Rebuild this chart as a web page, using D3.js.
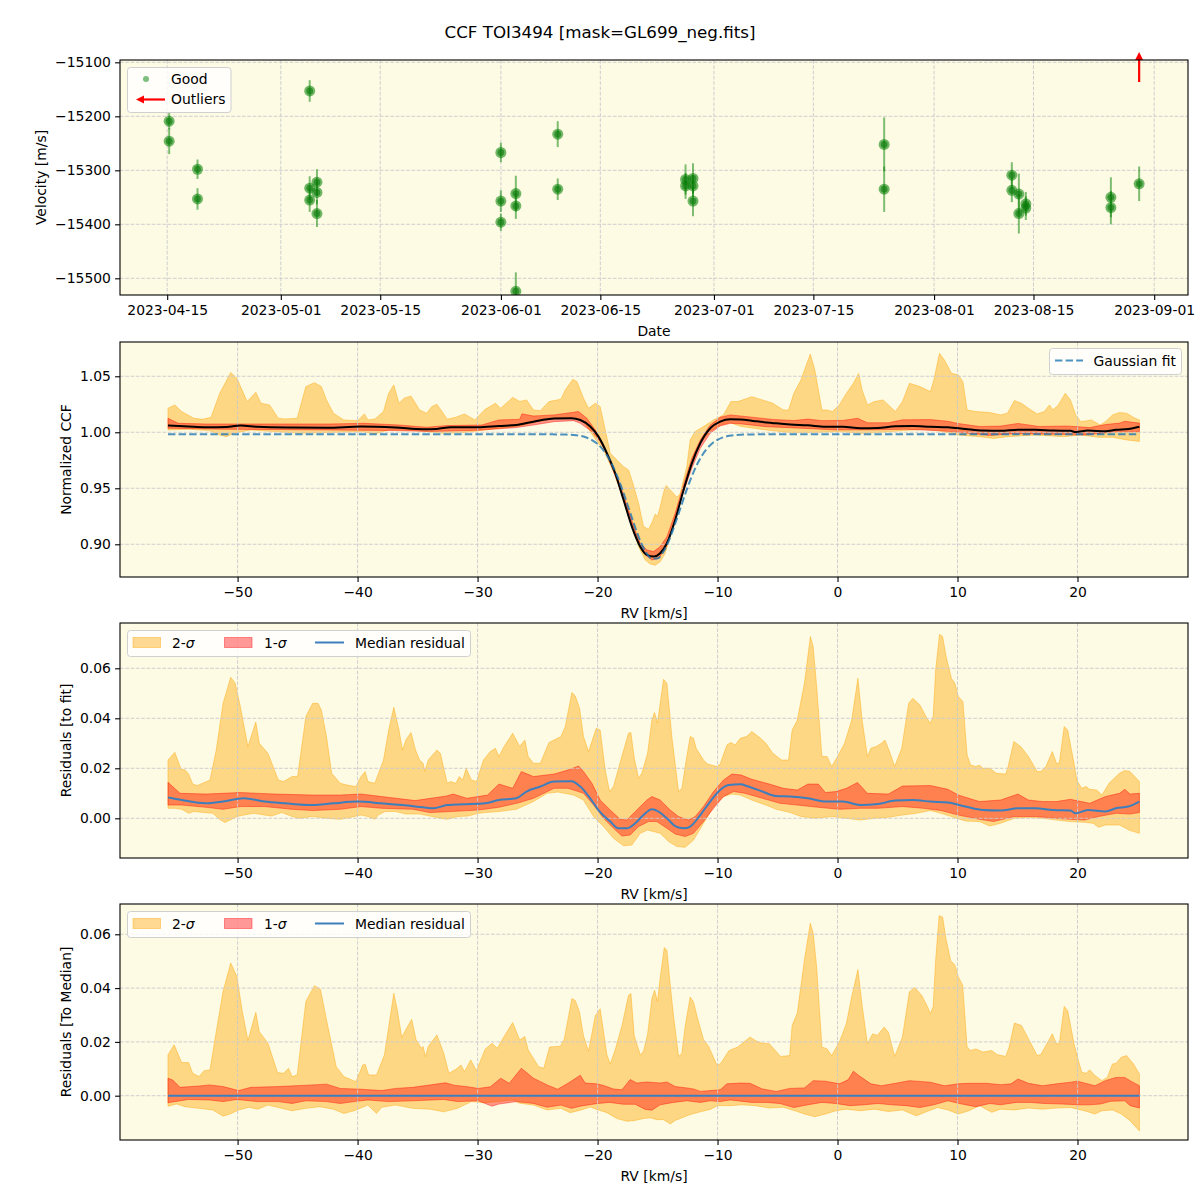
<!DOCTYPE html>
<html><head><meta charset="utf-8">
<script src="https://cdn.jsdelivr.net/npm/d3@7"></script>
<style>body{margin:0;background:#fff}svg{display:block}</style>
</head><body><svg id="c" width="1200" height="1200"></svg>
<script>
// ---------------- DATA ----------------
const chartTitle = "CCF TOI3494 [mask=GL699_neg.fits]";
const obsDates = ["2023-04-15T06:43:00Z","2023-04-15T06:43:00Z","2023-04-19T06:29:00Z","2023-04-19T06:29:00Z",
 "2023-05-05T01:41:00Z","2023-05-05T01:41:00Z","2023-05-05T01:41:00Z","2023-05-06T02:10:00Z","2023-05-06T02:10:00Z","2023-05-06T02:10:00Z",
 "2023-05-31T23:46:00Z","2023-05-31T23:46:00Z","2023-05-31T23:46:00Z","2023-06-03T02:24:00Z","2023-06-03T02:24:00Z","2023-06-03T02:24:00Z",
 "2023-06-09T00:00:00Z","2023-06-09T00:00:00Z","2023-06-27T00:00:00Z","2023-06-27T00:00:00Z","2023-06-28T01:12:00Z","2023-06-28T01:12:00Z","2023-06-28T01:12:00Z",
 "2023-07-24T23:17:00Z","2023-07-24T23:17:00Z","2023-08-11T22:48:00Z","2023-08-11T22:48:00Z","2023-08-12T22:34:00Z","2023-08-12T22:34:00Z",
 "2023-08-13T22:05:00Z","2023-08-13T22:05:00Z","2023-08-25T21:36:00Z","2023-08-25T21:36:00Z","2023-08-29T21:07:00Z"];
const obsVel = [-15209,-15246,-15298,-15353,-15153,-15333,-15355,-15322,-15341,-15380,-15267,-15357,-15396,-15343,-15366,-15524,
 -15233,-15335,-15317,-15329,-15315,-15329,-15357,-15252,-15335,-15309,-15337,-15344,-15380,-15362,-15370,-15350,-15369,-15325];
const obsErr = [15,24,18,20,20,22,22,24,22,25,18,20,16,33,24,35,24,20,28,24,28,20,28,50,42,24,22,38,37,22,22,37,31,32];
const outlierDates = ["2023-08-29T21:07:00Z"];
const dateTicks = ["2023-04-15","2023-05-01","2023-05-15","2023-06-01","2023-06-15","2023-07-01","2023-07-15","2023-08-01","2023-08-15","2023-09-01"];
const velTicks = [-15500,-15400,-15300,-15200,-15100];
const rvTicks = [-50,-40,-30,-20,-10,0,10,20];
const ccfTicks = [0.90,0.95,1.00,1.05];
const resTicks = [0.00,0.02,0.04,0.06];

// Panel 2: CCF (rv km/s, normalized CCF)
const ccfUp2 = [[-55.8,1.0214],[-55.23,1.0244],[-54.66,1.0185],[-53.65,1.0125],[-52.93,1.0116],[-52.21,1.0134],[-51.49,1.0348],[-50.57,1.0533],[-50.06,1.0482],[-49.2,1.0274],[-48.48,1.0357],[-48.05,1.0259],[-47.33,1.0244],[-46.61,1.0125],[-46.03,1.0119],[-45.03,1.0125],[-44.31,1.0408],[-43.59,1.0443],[-43.02,1.0408],[-42.59,1.0289],[-42.01,1.017],[-41.15,1.011],[-40.0,1.0104],[-39.43,1.0164],[-39.14,1.011],[-38.56,1.0119],[-37.84,1.0185],[-37.41,1.0348],[-36.98,1.0423],[-36.55,1.0259],[-36.12,1.0304],[-35.55,1.0324],[-35.17,1.0259],[-34.83,1.0199],[-34.25,1.017],[-33.82,1.0229],[-33.39,1.025],[-32.96,1.0185],[-32.53,1.0116],[-31.81,1.0134],[-31.09,1.0164],[-30.23,1.011],[-29.37,1.0205],[-28.51,1.0259],[-28.07,1.0214],[-27.07,1.0312],[-26.49,1.0274],[-25.92,1.0289],[-25.34,1.0199],[-24.77,1.0193],[-24.05,1.0274],[-23.05,1.0295],[-22.69,1.0378],[-22.06,1.0473],[-21.72,1.0452],[-21.17,1.0304],[-20.75,1.0214],[-20.19,1.0259],[-19.78,1.0229],[-19.36,1.0021],[-18.94,0.9813],[-18.39,0.9753],[-17.83,0.9693],[-17.42,0.9664],[-17.14,0.9574],[-16.58,0.9366],[-16.17,0.9158],[-15.75,0.9134],[-15.47,0.9193],[-15.19,0.9271],[-15.0,0.9245],[-14.78,0.9336],[-14.44,0.9485],[-14.28,0.9524],[-13.94,0.9485],[-13.39,0.942],[-13.11,0.9455],[-12.56,0.9693],[-12.28,0.9932],[-11.86,1.0006],[-11.17,1.0051],[-10.33,1.011],[-9.5,1.0155],[-8.89,1.0274],[-8.31,1.0274],[-7.14,1.0318],[-6.26,1.0289],[-5.39,1.0259],[-4.51,1.0199],[-4.08,1.0199],[-3.64,1.0348],[-3.05,1.0467],[-2.27,1.0699],[-1.89,1.0556],[-1.3,1.0199],[-0.87,1.0199],[-0.43,1.0185],[0.15,1.0244],[0.74,1.0348],[1.32,1.0437],[1.76,1.0525],[2.05,1.0378],[2.49,1.0244],[3.07,1.0274],[3.8,1.0289],[4.09,1.0259],[4.82,1.0185],[5.41,1.0274],[6.0,1.0437],[6.87,1.0408],[7.74,1.0363],[8.03,1.0467],[8.5,1.0705],[8.91,1.0646],[9.49,1.0527],[10.07,1.0512],[10.45,1.0452],[10.8,1.0199],[11.53,1.0185],[12.7,1.0176],[13.58,1.0155],[14.16,1.017],[14.74,1.0283],[15.33,1.0259],[15.91,1.0214],[16.64,1.0164],[17.23,1.0185],[17.66,1.0244],[17.95,1.0199],[18.4,1.0244],[18.98,1.0348],[19.41,1.0289],[19.85,1.0155],[20.29,1.0095],[21.16,1.011],[21.9,1.0065],[22.33,1.0095],[22.92,1.0155],[23.5,1.0176],[24.09,1.017],[24.81,1.0125],[25.16,1.011]];
const ccfLo2 = [[-55.8,1.0021],[-54.08,1.0027],[-52.36,1.0015],[-51.49,0.9976],[-50.92,0.9961],[-50.35,0.9991],[-48.91,1.0021],[-46.9,1.0006],[-44.89,0.9991],[-42.59,0.9997],[-39.71,1.0006],[-38.56,0.9985],[-37.41,1.0021],[-35.12,1.0015],[-32.82,0.9991],[-31.09,0.9997],[-29.37,1.0021],[-28.22,1.0036],[-26.49,1.0057],[-25.34,1.0086],[-23.91,1.0116],[-23.1,1.0131],[-22.0,1.0125],[-21.17,1.0095],[-20.33,0.9961],[-19.5,0.9842],[-18.67,0.9649],[-17.83,0.9396],[-17.14,0.9158],[-16.58,0.8979],[-16.03,0.886],[-15.61,0.8825],[-15.19,0.8813],[-14.78,0.8845],[-14.36,0.892],[-13.94,0.9068],[-13.53,0.9262],[-12.83,0.9545],[-12.14,0.9753],[-11.44,0.9902],[-10.61,1.0006],[-9.78,1.0065],[-8.94,1.0086],[-8.02,1.0051],[-5.97,1.0021],[-3.93,0.9997],[-2.18,0.9997],[0.15,1.0006],[1.9,0.9991],[3.36,0.9997],[5.41,1.0015],[7.16,1.0027],[8.33,1.0015],[10.07,0.9976],[11.83,0.9961],[13.0,0.9945],[14.16,0.9961],[16.5,0.9976],[18.83,0.9961],[20.29,0.9976],[21.75,0.9955],[22.92,0.9955],[24.09,0.9932],[25.16,0.9918]];
const ccfUp1 = [[-55.8,1.0125],[-54.94,1.008],[-52.64,1.0074],[-48.05,1.0074],[-42.3,1.0074],[-39.43,1.008],[-36.55,1.0065],[-34.25,1.0045],[-32.53,1.006],[-29.66,1.0065],[-28.22,1.011],[-26.49,1.0116],[-26.3,1.0165],[-25.34,1.0145],[-23.62,1.0155],[-21.58,1.0185],[-20.89,1.0125],[-20.19,1.0021],[-19.5,0.9872],[-18.67,0.9649],[-17.83,0.9411],[-17.14,0.9188],[-16.44,0.9009],[-15.89,0.895],[-15.33,0.8935],[-14.78,0.898],[-14.22,0.9068],[-13.53,0.9277],[-12.83,0.953],[-12.14,0.9768],[-11.44,0.9932],[-10.61,1.0065],[-9.78,1.0134],[-8.94,1.0155],[-8.11,1.0146],[-7.14,1.0135],[-5.39,1.0115],[-3.64,1.0105],[-2.47,1.0118],[-1.3,1.0104],[0.45,1.0106],[1.67,1.0125],[2.49,1.0085],[4.24,1.0085],[5.41,1.0111],[7.74,1.0113],[9.2,1.0098],[10.07,1.0078],[11.83,1.0052],[13.58,1.0055],[15.04,1.0079],[16.79,1.0052],[19.12,1.0056],[21.02,1.0042],[22.33,1.0069],[23.5,1.0082],[23.94,1.0098],[25.16,1.0082]];
const ccfLo1 = [[-55.8,1.0036],[-51.2,1.0027],[-42.59,1.0021],[-36.84,1.0015],[-33.97,1.0006],[-29.94,1.0018],[-26.78,1.0042],[-25.34,1.0065],[-23.62,1.0095],[-22.0,1.0104],[-21.44,1.008],[-20.47,1.0006],[-19.78,0.9917],[-18.94,0.9753],[-18.11,0.953],[-17.42,0.9307],[-16.72,0.9068],[-16.03,0.8905],[-15.47,0.886],[-14.92,0.8875],[-14.36,0.8955],[-13.67,0.9158],[-12.97,0.9426],[-12.14,0.9679],[-11.44,0.9857],[-10.61,0.9991],[-9.78,1.0057],[-8.94,1.008],[-8.02,1.0075],[-5.97,1.005],[-3.05,1.0036],[-0.14,1.0021],[2.78,1.0022],[5.7,1.0027],[8.62,1.0013],[10.95,0.9991],[12.7,0.9972],[14.74,0.9988],[18.25,0.9982],[20.58,0.9976],[22.92,1.0002],[25.16,1.0005]];
const ccfMedian = [[-55.8,1.006],[-54.08,1.0051],[-52.64,1.0045],[-50.92,1.0048],[-49.77,1.006],[-48.34,1.0049],[-45.46,1.0042],[-42.59,1.004],[-39.71,1.0051],[-36.84,1.0042],[-34.54,1.0027],[-33.39,1.003],[-32.24,1.0045],[-29.94,1.0045],[-28.22,1.0057],[-26.78,1.0065],[-25.34,1.0095],[-23.62,1.0122],[-22.18,1.0125],[-21.44,1.011],[-20.61,1.0051],[-19.92,0.9961],[-19.22,0.9813],[-18.53,0.9634],[-17.83,0.9396],[-17.14,0.9158],[-16.44,0.8979],[-15.89,0.8905],[-15.33,0.889],[-14.78,0.892],[-14.22,0.9009],[-13.53,0.9217],[-12.83,0.9485],[-12.14,0.9723],[-11.44,0.9902],[-10.61,1.0036],[-9.78,1.0095],[-8.94,1.0116],[-8.11,1.0114],[-6.85,1.0099],[-5.1,1.008],[-3.93,1.007],[-2.47,1.0062],[-1.01,1.0049],[0.45,1.0049],[1.9,1.0036],[3.36,1.0039],[4.82,1.0053],[6.28,1.0055],[7.74,1.0049],[9.2,1.0045],[10.66,1.0029],[12.12,1.0015],[13.58,1.0013],[15.04,1.0022],[16.5,1.0022],[17.95,1.0015],[19.41,1.0013],[19.85,1.0002],[20.87,1.0015],[22.33,1.0009],[23.21,1.0022],[24.23,1.0029],[25.16,1.0049]];
const ccfFit = [[-55.8,0.9982],[-24,0.9982],[-23.5,0.9981],[-23,0.9981],[-22.5,0.9979],[-22,0.9976],[-21.5,0.9969],[-21,0.9956],[-20.5,0.9933],[-20,0.9896],[-19.5,0.9838],[-19,0.9755],[-18.5,0.9645],[-18,0.9508],[-17.5,0.9353],[-17,0.9193],[-16.5,0.9047],[-16,0.8935],[-15.5,0.8874],[-15,0.8874],[-14.5,0.8935],[-14,0.9047],[-13.5,0.9193],[-13,0.9353],[-12.5,0.9508],[-12,0.9645],[-11.5,0.9755],[-11,0.9838],[-10.5,0.9896],[-10,0.9933],[-9.5,0.9956],[-9,0.9969],[-8.5,0.9976],[-8,0.9979],[-7.5,0.9981],[-7,0.9981],[-6.5,0.9982],[25.16,0.9982]];

// Panel 3: residuals to fit
const resUp2 = [[-55.8,0.0233],[-55.23,0.0264],[-54.71,0.0196],[-54.37,0.0193],[-54.08,0.0177],[-53.74,0.0137],[-53.36,0.0131],[-52.93,0.014],[-52.3,0.0153],[-51.78,0.0273],[-51.21,0.046],[-50.57,0.0564],[-50.2,0.054],[-49.77,0.0447],[-49.14,0.0287],[-48.48,0.0385],[-48.19,0.03],[-47.47,0.026],[-46.61,0.0153],[-46.18,0.0147],[-45.46,0.0167],[-45.0,0.0167],[-44.31,0.0407],[-43.74,0.046],[-43.3,0.046],[-43.02,0.0433],[-42.59,0.0327],[-42.16,0.018],[-41.44,0.014],[-40.86,0.0133],[-40.14,0.0127],[-39.71,0.0167],[-39.37,0.0187],[-39.14,0.0147],[-38.56,0.014],[-37.84,0.0233],[-37.41,0.0353],[-36.98,0.0444],[-36.55,0.0353],[-36.26,0.0273],[-35.98,0.0313],[-35.55,0.0343],[-35.17,0.0273],[-34.83,0.0233],[-34.54,0.022],[-34.4,0.0187],[-34.11,0.0233],[-33.39,0.0273],[-33.1,0.026],[-32.53,0.014],[-32.24,0.0147],[-31.81,0.014],[-31.52,0.0167],[-31.24,0.0153],[-30.95,0.02],[-30.52,0.0153],[-30.09,0.0147],[-29.51,0.0233],[-28.94,0.0267],[-28.51,0.028],[-28.22,0.0247],[-27.79,0.0287],[-27.07,0.034],[-26.49,0.0287],[-26.06,0.0313],[-25.78,0.0247],[-25.34,0.022],[-24.77,0.022],[-24.05,0.0303],[-23.05,0.0327],[-22.69,0.0367],[-22.14,0.0503],[-21.86,0.049],[-21.5,0.044],[-21.17,0.0327],[-20.75,0.0267],[-20.11,0.036],[-19.78,0.0353],[-19.36,0.0193],[-19.0,0.0107],[-18.67,0.0127],[-18.06,0.0233],[-17.42,0.034],[-17.22,0.0343],[-16.94,0.024],[-16.58,0.016],[-16.31,0.018],[-15.83,0.026],[-15.47,0.0393],[-15.25,0.0423],[-15.0,0.038],[-14.78,0.046],[-14.5,0.0556],[-14.22,0.054],[-13.81,0.0327],[-13.25,0.0107],[-12.97,0.012],[-12.61,0.0233],[-12.28,0.0327],[-12.0,0.032],[-11.78,0.028],[-11.17,0.0233],[-10.83,0.0217],[-10.06,0.0207],[-9.78,0.0217],[-9.22,0.0293],[-8.89,0.0303],[-8.53,0.0293],[-8.11,0.032],[-7.58,0.0327],[-7.14,0.0347],[-6.41,0.032],[-5.97,0.03],[-5.39,0.026],[-4.66,0.0233],[-4.08,0.0233],[-3.78,0.0353],[-3.35,0.0393],[-2.76,0.054],[-2.26,0.0727],[-2.03,0.0687],[-1.74,0.0527],[-1.3,0.0247],[-0.87,0.0247],[-0.49,0.0207],[0.0,0.0247],[0.59,0.03],[1.18,0.0393],[1.7,0.056],[2.05,0.0393],[2.49,0.0247],[2.78,0.028],[3.22,0.0287],[3.66,0.03],[3.95,0.0313],[4.39,0.026],[4.76,0.0207],[5.35,0.028],[5.93,0.046],[6.28,0.048],[6.87,0.0453],[7.45,0.04],[7.74,0.038],[7.97,0.0407],[8.18,0.0593],[8.5,0.0736],[8.76,0.0727],[9.05,0.0647],[9.49,0.056],[9.78,0.054],[10.07,0.0487],[10.45,0.0467],[10.8,0.0253],[11.09,0.0213],[11.53,0.0207],[11.82,0.0213],[12.12,0.02],[12.7,0.02],[13.23,0.018],[14.02,0.0177],[14.22,0.0207],[14.69,0.0307],[15.27,0.0287],[15.91,0.0247],[16.64,0.0187],[16.94,0.0187],[17.37,0.0207],[17.9,0.0267],[18.25,0.022],[18.48,0.022],[18.89,0.0367],[19.18,0.0353],[19.71,0.022],[19.94,0.0153],[20.35,0.012],[20.73,0.0127],[21.02,0.0116],[21.6,0.0113],[22.04,0.0093],[22.63,0.014],[23.21,0.0167],[23.5,0.018],[23.94,0.0191],[24.38,0.0187],[25.16,0.0147]];
const resLo2 = [[-55.8,0.004],[-55.23,0.004],[-54.65,0.0036],[-54.08,0.002],[-53.65,0.0027],[-52.79,0.0023],[-52.07,0.002],[-51.5,-0.0004],[-51.06,-0.0017],[-50.63,-0.0007],[-50.06,0.0007],[-49.48,0.0013],[-48.62,0.002],[-47.76,0.0013],[-47.18,0.0009],[-46.32,0.0023],[-45.46,0.0007],[-44.89,0.0],[-43.74,0.0007],[-42.59,0.0],[-41.44,-0.0004],[-40.29,0.0007],[-39.71,0.0013],[-39.14,0.0007],[-38.56,-0.0004],[-38.28,0.0013],[-37.7,0.0027],[-36.84,0.0027],[-35.98,0.0017],[-34.83,0.0017],[-33.97,0.0009],[-33.1,0.0],[-32.53,-0.0004],[-31.67,0.0007],[-30.8,0.0009],[-29.94,0.002],[-29.37,0.0023],[-28.22,0.0027],[-26.78,0.0036],[-25.34,0.0067],[-24.2,0.01],[-23.3,0.0105],[-22.0,0.0093],[-21.17,0.0073],[-20.33,0.0007],[-19.5,-0.0033],[-18.67,-0.008],[-17.83,-0.011],[-17.14,-0.0107],[-16.44,-0.006],[-15.83,-0.0047],[-14.78,-0.006],[-14.08,-0.0093],[-13.39,-0.0113],[-12.69,-0.0116],[-12.0,-0.0087],[-11.17,-0.002],[-10.33,0.0047],[-9.5,0.0087],[-8.81,0.0097],[-8.11,0.0093],[-7.14,0.0073],[-5.97,0.0053],[-5.1,0.0036],[-3.93,0.0023],[-3.05,0.0007],[-1.89,0.0],[-0.43,0.0007],[0.73,0.0],[1.9,-0.0007],[3.07,0.0],[4.24,0.0004],[5.41,0.0013],[6.57,0.002],[7.74,0.0031],[8.62,0.002],[9.49,0.0007],[10.66,-0.0011],[11.83,-0.0013],[12.7,-0.0031],[13.58,-0.002],[14.74,0.0],[15.91,0.0004],[17.08,0.0],[18.25,-0.0007],[19.41,-0.0013],[20.58,-0.0016],[21.31,-0.002],[21.75,-0.0036],[22.33,-0.0027],[23.5,-0.0027],[24.38,-0.0049],[25.16,-0.006]];
const resUp1 = [[-55.8,0.0144],[-54.8,0.01],[-52.64,0.0097],[-49.77,0.0103],[-46.9,0.0097],[-43.74,0.0093],[-41.44,0.0093],[-39.71,0.0097],[-37.99,0.0087],[-35.2,0.0071],[-32.61,0.0089],[-32.04,0.0097],[-30.89,0.008],[-29.17,0.0093],[-28.22,0.0137],[-27.07,0.012],[-26.35,0.0187],[-25.34,0.0167],[-23.62,0.0177],[-22.47,0.0193],[-21.58,0.0209],[-21.17,0.0187],[-20.47,0.014],[-19.78,0.0073],[-18.94,0.0033],[-18.11,-0.0004],[-17.56,-0.0007],[-16.86,0.0027],[-15.89,0.0073],[-15.47,0.0087],[-14.78,0.0073],[-13.94,0.0033],[-13.25,0.0007],[-12.42,-0.0007],[-11.86,0.0007],[-11.17,0.0047],[-10.33,0.0107],[-9.5,0.0153],[-8.81,0.0177],[-8.02,0.0173],[-7.14,0.0156],[-5.68,0.0137],[-4.51,0.012],[-3.35,0.0113],[-2.47,0.0137],[-1.6,0.0137],[-1.01,0.0103],[-0.14,0.0107],[0.74,0.012],[1.67,0.0143],[2.49,0.01],[4.24,0.0097],[5.41,0.0129],[7.74,0.0131],[9.2,0.0116],[10.07,0.0093],[11.83,0.0067],[13.58,0.0073],[15.04,0.0097],[15.91,0.0073],[17.08,0.0067],[18.25,0.0067],[19.41,0.0076],[21.02,0.006],[22.33,0.0087],[23.5,0.01],[23.94,0.0116],[24.38,0.0097],[25.16,0.01]];
const resLo1 = [[-55.8,0.0053],[-54.65,0.0053],[-52.64,0.0044],[-51.2,0.0036],[-49.77,0.0047],[-47.76,0.0047],[-45.46,0.0036],[-43.74,0.0031],[-41.44,0.0036],[-39.71,0.0047],[-37.99,0.004],[-35.4,0.0036],[-33.97,0.0023],[-32.24,0.0027],[-29.94,0.0033],[-28.22,0.0044],[-26.49,0.0063],[-25.34,0.008],[-23.62,0.012],[-22.47,0.012],[-21.61,0.0107],[-21.17,0.01],[-20.33,0.0053],[-19.5,0.0],[-18.67,-0.004],[-17.97,-0.0071],[-17.28,-0.0067],[-16.58,-0.0033],[-15.75,-0.0013],[-15.06,-0.0013],[-14.22,-0.004],[-13.53,-0.0063],[-12.69,-0.0073],[-12.0,-0.006],[-11.17,-0.0013],[-10.33,0.004],[-9.5,0.0087],[-8.67,0.0107],[-7.72,0.01],[-6.26,0.008],[-4.8,0.006],[-3.35,0.0053],[-1.6,0.0044],[0.15,0.0036],[1.9,0.004],[3.36,0.004],[5.41,0.0047],[7.16,0.004],[8.62,0.0031],[10.07,0.0013],[11.83,-0.0004],[13.0,-0.0013],[14.74,0.0007],[16.5,0.0007],[18.25,0.0],[19.41,-0.0004],[20.58,-0.0007],[21.75,0.0007],[23.21,0.002],[24.38,0.0017],[25.16,0.0023]];
const resMedian = [[-55.8,0.0083],[-54.65,0.0073],[-52.64,0.006],[-51.2,0.0067],[-49.48,0.008],[-47.76,0.0067],[-46.03,0.006],[-43.74,0.0053],[-42.01,0.006],[-40.0,0.0067],[-37.99,0.006],[-36.26,0.0053],[-34.54,0.0044],[-33.68,0.004],[-32.53,0.0053],[-31.09,0.0056],[-29.37,0.006],[-28.22,0.0073],[-26.78,0.008],[-25.92,0.0107],[-24.77,0.0127],[-23.62,0.0147],[-22.18,0.0148],[-21.44,0.0127],[-20.61,0.008],[-19.92,0.0033],[-18.94,-0.0013],[-18.25,-0.004],[-17.56,-0.004],[-16.86,-0.002],[-16.17,0.0013],[-15.47,0.0036],[-14.92,0.0027],[-14.22,0.0],[-13.53,-0.0031],[-12.83,-0.004],[-12.28,-0.0033],[-11.44,0.0013],[-10.61,0.0067],[-9.78,0.0113],[-9.08,0.0133],[-8.11,0.0136],[-7.43,0.0127],[-6.26,0.0107],[-5.1,0.0089],[-3.93,0.0087],[-2.47,0.008],[-1.01,0.0067],[0.45,0.0067],[1.9,0.0053],[3.36,0.0057],[4.82,0.0071],[6.28,0.0073],[7.74,0.0067],[9.2,0.0063],[10.66,0.0047],[12.12,0.0033],[13.58,0.0031],[15.04,0.004],[16.5,0.004],[17.95,0.0033],[19.41,0.0031],[19.85,0.002],[20.87,0.0033],[22.33,0.0027],[23.21,0.004],[24.23,0.0047],[25.16,0.0067]];

// Panel 4: residuals to median
const relUp2 = [[-55.8,0.0152],[-55.29,0.0189],[-54.66,0.0123],[-54.08,0.0123],[-53.74,0.0083],[-53.22,0.0071],[-52.79,0.0093],[-52.3,0.0096],[-51.78,0.0238],[-51.21,0.0388],[-50.57,0.0493],[-50.06,0.0443],[-49.63,0.0319],[-49.14,0.0205],[-48.48,0.031],[-48.19,0.0238],[-47.47,0.0195],[-46.67,0.0086],[-46.18,0.0083],[-45.75,0.0102],[-45.46,0.0071],[-45.03,0.0077],[-44.31,0.035],[-43.59,0.0409],[-43.1,0.0396],[-42.59,0.0282],[-41.78,0.0108],[-41.15,0.0071],[-40.14,0.0052],[-39.57,0.0114],[-39.37,0.0117],[-39.08,0.0077],[-38.42,0.0077],[-37.76,0.0152],[-36.98,0.0381],[-36.69,0.0319],[-36.32,0.0217],[-35.98,0.0245],[-35.49,0.0284],[-35.12,0.0207],[-34.68,0.0176],[-34.54,0.0183],[-34.34,0.0145],[-34.11,0.0183],[-33.39,0.0226],[-32.82,0.0158],[-32.39,0.0083],[-31.81,0.0098],[-31.38,0.0114],[-31.09,0.0089],[-30.57,0.0133],[-30.09,0.0093],[-29.37,0.0173],[-28.79,0.0195],[-28.36,0.0176],[-27.79,0.022],[-27.07,0.0272],[-26.49,0.0207],[-26.06,0.022],[-25.78,0.017],[-24.91,0.0108],[-24.48,0.0102],[-24.0,0.0181],[-23.1,0.0184],[-22.78,0.0209],[-22.14,0.0361],[-21.86,0.0354],[-21.5,0.031],[-21.17,0.0222],[-20.75,0.0165],[-20.19,0.0297],[-19.78,0.0323],[-19.22,0.0152],[-18.94,0.0118],[-18.53,0.0171],[-17.97,0.0259],[-17.42,0.0373],[-17.22,0.038],[-16.94,0.0222],[-16.44,0.0152],[-16.17,0.0165],[-15.83,0.0228],[-15.47,0.0361],[-15.25,0.0392],[-15.0,0.0351],[-14.78,0.0437],[-14.44,0.0551],[-14.22,0.0541],[-13.94,0.0411],[-13.67,0.0297],[-13.25,0.0146],[-12.97,0.0158],[-12.69,0.026],[-12.28,0.0367],[-12.0,0.0348],[-11.72,0.0297],[-11.17,0.0209],[-10.75,0.0184],[-10.06,0.0114],[-9.77,0.0118],[-9.04,0.0168],[-8.31,0.0181],[-7.29,0.0218],[-6.85,0.0205],[-6.26,0.0195],[-5.68,0.0193],[-4.75,0.0146],[-3.99,0.0149],[-3.78,0.0261],[-3.35,0.0308],[-2.76,0.0504],[-2.27,0.0641],[-2.03,0.0604],[-1.74,0.0479],[-1.3,0.0181],[-0.87,0.0174],[-0.49,0.0149],[0.15,0.0199],[0.74,0.0268],[1.18,0.0367],[1.7,0.0469],[2.05,0.0336],[2.49,0.0193],[2.93,0.023],[3.31,0.0224],[3.89,0.0255],[4.24,0.0236],[4.76,0.0146],[5.41,0.0218],[5.99,0.0386],[6.43,0.0402],[7.01,0.0373],[7.51,0.033],[7.74,0.0305],[7.97,0.0332],[8.18,0.0504],[8.47,0.0669],[8.76,0.0664],[9.05,0.0581],[9.43,0.0502],[9.78,0.0486],[10.07,0.0442],[10.43,0.0411],[10.8,0.0181],[11.09,0.0168],[11.53,0.0174],[12.12,0.0162],[12.85,0.0168],[13.29,0.0153],[14.02,0.0146],[14.3,0.0181],[14.74,0.027],[15.33,0.0261],[15.91,0.0212],[16.64,0.0149],[16.94,0.0153],[17.37,0.0187],[17.9,0.023],[18.25,0.0193],[18.48,0.0193],[18.89,0.0332],[19.18,0.0317],[19.71,0.0193],[20.0,0.0143],[20.35,0.0087],[20.73,0.0083],[21.02,0.0096],[21.45,0.0075],[22.04,0.0056],[22.48,0.0068],[22.92,0.0118],[23.21,0.012],[23.65,0.0143],[24.09,0.0149],[24.67,0.0118],[25.16,0.0081]];
const relLo2 = [[-55.8,-0.0039],[-55.08,-0.0031],[-54.37,-0.0041],[-53.22,-0.0047],[-52.07,-0.0053],[-51.21,-0.0076],[-50.63,-0.0068],[-49.91,-0.0053],[-49.05,-0.0043],[-48.33,-0.005],[-47.47,-0.0035],[-46.32,-0.0047],[-45.46,-0.0056],[-44.31,-0.0047],[-43.16,-0.0041],[-42.01,-0.005],[-41.15,-0.0066],[-40.29,-0.0056],[-39.14,-0.0035],[-38.42,-0.0066],[-37.99,-0.0043],[-36.84,-0.0035],[-35.4,-0.0047],[-33.97,-0.005],[-32.82,-0.006],[-31.67,-0.0047],[-30.52,-0.0022],[-29.37,-0.0026],[-28.22,-0.0022],[-27.07,-0.0016],[-26.49,-0.0028],[-25.34,-0.0035],[-24.2,-0.0053],[-23.05,-0.0047],[-22.28,-0.0063],[-21.44,-0.0054],[-20.61,-0.0042],[-20.06,-0.0051],[-19.22,-0.0063],[-18.39,-0.0085],[-17.56,-0.0095],[-17.0,-0.0093],[-16.17,-0.0085],[-15.61,-0.0082],[-15.06,-0.0089],[-14.5,-0.0089],[-13.94,-0.0105],[-13.53,-0.0092],[-12.97,-0.0082],[-12.28,-0.007],[-11.44,-0.006],[-10.61,-0.0051],[-10.0,-0.0037],[-8.89,-0.0037],[-8.02,-0.0034],[-6.85,-0.0037],[-5.68,-0.0046],[-4.51,-0.0043],[-3.35,-0.0059],[-2.76,-0.0068],[-1.89,-0.0078],[-1.01,-0.0068],[-0.14,-0.0056],[0.74,-0.005],[1.9,-0.0056],[3.07,-0.005],[4.24,-0.0059],[5.41,-0.0053],[6.57,-0.0075],[7.45,-0.0059],[8.33,-0.0044],[9.2,-0.0053],[10.07,-0.0068],[10.95,-0.0056],[11.83,-0.0037],[12.85,-0.0062],[13.58,-0.005],[14.74,-0.0053],[15.91,-0.0046],[17.08,-0.005],[18.25,-0.0046],[19.41,-0.0044],[20.58,-0.0056],[21.45,-0.0068],[22.04,-0.0056],[22.92,-0.0053],[23.65,-0.0068],[24.38,-0.0093],[25.16,-0.0131]];
const relUp1 = [[-55.8,0.0065],[-55.4,0.0058],[-54.8,0.0031],[-53.22,0.0036],[-52.36,0.004],[-51.21,0.0034],[-49.91,0.0019],[-48.91,0.0031],[-46.61,0.0034],[-43.74,0.004],[-42.59,0.0043],[-41.44,0.0027],[-39.71,0.0024],[-37.99,0.0019],[-36.84,0.0027],[-35.4,0.0031],[-32.67,0.0048],[-31.95,0.0039],[-30.8,0.0033],[-29.94,0.0027],[-28.94,0.0033],[-28.07,0.0065],[-27.36,0.0046],[-26.35,0.0102],[-25.34,0.0065],[-24.2,0.004],[-23.33,0.0024],[-22.47,0.0046],[-21.44,0.0076],[-21.03,0.0047],[-20.06,0.0044],[-19.5,0.0038],[-18.67,0.0025],[-17.97,0.0022],[-17.28,0.006],[-16.72,0.0047],[-15.89,0.0051],[-14.78,0.0047],[-14.22,0.0051],[-13.53,0.0034],[-12.56,0.0029],[-12.0,0.0025],[-11.44,0.0016],[-10.61,0.0019],[-9.78,0.0022],[-9.22,0.0044],[-8.11,0.0047],[-7.29,0.0046],[-6.26,0.0025],[-5.1,0.0016],[-3.99,0.0027],[-2.76,0.0029],[-2.03,0.0056],[-1.01,0.0054],[0.15,0.0044],[0.88,0.0059],[1.32,0.0091],[1.9,0.0071],[2.78,0.0044],[3.66,0.0037],[4.82,0.0046],[5.99,0.0056],[7.74,0.005],[8.91,0.0037],[10.07,0.0044],[10.95,0.0046],[12.41,0.0046],[13.58,0.0041],[14.45,0.0044],[15.04,0.0062],[15.91,0.0046],[17.08,0.0037],[18.25,0.0044],[19.41,0.005],[19.99,0.0054],[21.45,0.0037],[22.33,0.0056],[23.21,0.0068],[23.94,0.0068],[24.38,0.0056],[25.16,0.0037]];
const relLo1 = [[-55.8,-0.0026],[-54.08,-0.0014],[-52.36,-0.0016],[-51.21,-0.0022],[-50.06,-0.0014],[-48.33,-0.0022],[-46.61,-0.0022],[-45.46,-0.0029],[-44.31,-0.0019],[-42.59,-0.0022],[-41.44,-0.0029],[-40.29,-0.0022],[-39.14,-0.0016],[-37.41,-0.0022],[-35.4,-0.0019],[-32.82,-0.0014],[-31.67,-0.0022],[-29.94,-0.0019],[-28.79,-0.0039],[-28.22,-0.0031],[-26.78,-0.0022],[-25.34,-0.0029],[-24.2,-0.0043],[-23.05,-0.0035],[-22.18,-0.0047],[-21.32,-0.0038],[-20.0,-0.0029],[-19.0,-0.0025],[-17.83,-0.0032],[-16.86,-0.0032],[-16.03,-0.0051],[-15.47,-0.0054],[-14.78,-0.0034],[-13.67,-0.0025],[-12.56,-0.0019],[-11.44,-0.0025],[-10.61,-0.0019],[-9.78,-0.0022],[-8.94,-0.0016],[-7.14,-0.0025],[-5.97,-0.0025],[-4.8,-0.0029],[-3.64,-0.0044],[-2.47,-0.0034],[-1.3,-0.0025],[-0.14,-0.0029],[1.03,-0.0037],[2.2,-0.0034],[3.36,-0.0029],[4.53,-0.0034],[5.7,-0.0037],[6.87,-0.0044],[8.03,-0.0034],[9.2,-0.0019],[10.36,-0.0031],[11.53,-0.0041],[12.7,-0.0029],[13.58,-0.0034],[14.89,-0.0025],[16.06,-0.0025],[17.23,-0.0029],[18.69,-0.0031],[20.15,-0.0034],[21.02,-0.0034],[21.9,-0.0031],[22.77,-0.0021],[23.94,-0.0019],[24.38,-0.0037],[25.16,-0.0046]];
const relMedian = [[-55.8,0.0],[25.16,0.0]];

// ---------------- DRAWING ----------------
const FONT = '"DejaVu Sans", sans-serif';
const FS = 13.9;
const BG = '#fdfbe3';
const GRID = '#c9c9cf';
const L = 120, R = 1188;
const svg = d3.select('#c').attr('font-family', FONT);
svg.append('rect').attr('width',1200).attr('height',1200).attr('fill','#fff');

svg.append('text').attr('x',600).attr('y',38).attr('text-anchor','middle')
  .attr('font-size',16.7).text(chartTitle);

let clipId = 0;
function makePanel(top, bottom, x, y, xTicks, yTicks, xFmt, yFmt, xLabel, yLabel, yLabelX) {
  const id = 'clip' + (clipId++);
  svg.append('clipPath').attr('id', id).append('rect')
     .attr('x', L).attr('y', top).attr('width', R - L).attr('height', bottom - top);
  svg.append('rect').attr('x', L).attr('y', top).attr('width', R - L).attr('height', bottom - top).attr('fill', BG);
  const bands = svg.append('g').attr('clip-path', `url(#${id})`);
  const grid = svg.append('g');
  xTicks.forEach(t => grid.append('line').attr('x1', x(t)).attr('x2', x(t)).attr('y1', top).attr('y2', bottom));
  yTicks.forEach(t => grid.append('line').attr('y1', y(t)).attr('y2', y(t)).attr('x1', L).attr('x2', R));
  grid.selectAll('line').attr('stroke', GRID).attr('stroke-width', 0.9).attr('stroke-dasharray', '3.7,1.6');
  const lines = svg.append('g').attr('clip-path', `url(#${id})`);
  const free = svg.append('g');
  svg.append('rect').attr('x', L).attr('y', top).attr('width', R - L).attr('height', bottom - top)
     .attr('fill', 'none').attr('stroke', '#000').attr('stroke-width', 1.1);
  const ax = svg.append('g').attr('transform', `translate(0,${bottom})`)
     .call(d3.axisBottom(x).tickValues(xTicks).tickFormat(xFmt).tickSize(4.9).tickPadding(4.9));
  const ay = svg.append('g').attr('transform', `translate(${L},0)`)
     .call(d3.axisLeft(y).tickValues(yTicks).tickFormat(yFmt).tickSize(4.9).tickPadding(4.2));
  [ax, ay].forEach(a => {
    a.attr('font-family', FONT).attr('font-size', FS);
    a.select('.domain').remove();
    a.selectAll('line').attr('stroke', '#000').attr('stroke-width', 1.1);
    a.selectAll('text').attr('fill', '#000');
  });
  svg.append('text').attr('x', (L + R) / 2).attr('y', bottom + 40.5).attr('text-anchor', 'middle')
     .attr('font-size', FS).text(xLabel);
  const cy = (top + bottom) / 2;
  svg.append('text').attr('transform', `translate(${yLabelX},${cy}) rotate(-90)`).attr('text-anchor', 'middle')
     .attr('font-size', FS).text(yLabel);
  return { bands, lines, free, top, bottom };
}

function band(g, up, lo, x, y, color, op) {
  const pts = up.concat(lo.slice().reverse());
  g.append('path').attr('d', d3.line().x(d => x(d[0])).y(d => y(d[1]))(pts) + 'Z')
   .attr('fill', color).attr('fill-opacity', op)
   .attr('stroke', color).attr('stroke-opacity', op).attr('stroke-width', 1);
}
function line(g, data, x, y, color, w, dash, op, curve) {
  const gen = d3.line().x(d => x(d[0])).y(d => y(d[1]));
  if (curve) gen.curve(curve);
  const p = g.append('path').attr('d', gen(data)).attr('fill', 'none')
   .attr('stroke', color).attr('stroke-width', w).attr('stroke-opacity', op);
  if (dash) p.attr('stroke-dasharray', dash);
}
function legendBox(x0, y0, w, h) {
  svg.append('rect').attr('x', x0).attr('y', y0).attr('width', w).attr('height', h).attr('rx', 3)
    .attr('fill', '#fff').attr('fill-opacity', 0.8).attr('stroke', '#d0d0d0').attr('stroke-width', 1);
}
const ORANGE = '#ffa500', RED = '#ff0000', BLUE = '#3d7fbd';
const OP2 = 0.42, OP1 = 0.4;

// ---- Panel 1 ----
const day = 864e5;
const t0 = Date.UTC(2023, 3, 15);
const x1 = d3.scaleUtc().domain([new Date(t0 - 6.646 * day), new Date(t0 + 143.76 * day)]).range([L, R]);
const y1 = d3.scaleLinear().domain([-15530.9, -15095.7]).range([295, 60]);
const dTicks = dateTicks.map(s => new Date(s + 'T00:00:00Z'));
const P1 = makePanel(60, 295, x1, y1, dTicks, velTicks, d3.utcFormat('%Y-%m-%d'), d3.format('d'), 'Date', 'Velocity [m/s]', 46);
const obs = obsDates.map((d, i) => ({ t: new Date(d), v: obsVel[i], e: obsErr[i] }));
P1.lines.selectAll('line.err').data(obs).enter().append('line')
  .attr('x1', d => x1(d.t)).attr('x2', d => x1(d.t)).attr('y1', d => y1(d.v - d.e)).attr('y2', d => y1(d.v + d.e))
  .attr('stroke', '#008000').attr('stroke-opacity', 0.5).attr('stroke-width', 2);
P1.lines.selectAll('circle.o').data(obs).enter().append('circle')
  .attr('cx', d => x1(d.t)).attr('cy', d => y1(d.v)).attr('r', 5.5).attr('fill', '#008000').attr('fill-opacity', 0.55);
P1.lines.selectAll('circle.i').data(obs).enter().append('circle')
  .attr('cx', d => x1(d.t)).attr('cy', d => y1(d.v)).attr('r', 3.4).attr('fill', '#0a7a0a').attr('fill-opacity', 0.6);
function arrowHead(g, tipX, tipY, dir) { // dir: 'up' or 'left'
  const a = 8, b = 4;
  const pts = dir === 'up' ? [[tipX, tipY], [tipX - b, tipY + a], [tipX + b, tipY + a]]
                           : [[tipX, tipY], [tipX + a, tipY - b], [tipX + a, tipY + b]];
  g.append('path').attr('d', d3.line()(pts) + 'Z').attr('fill', RED);
}
outlierDates.forEach(s => {
  const ox = x1(new Date(s));
  P1.free.append('line').attr('x1', ox).attr('x2', ox).attr('y1', 60 + 22).attr('y2', 60 - 2).attr('stroke', RED).attr('stroke-width', 2.2);
  arrowHead(P1.free, ox, 60 - 8, 'up');
});
legendBox(127.5, 67.5, 103.5, 45);
svg.append('circle').attr('cx', 146).attr('cy', 79).attr('r', 3).attr('fill', '#008000').attr('fill-opacity', 0.5);
svg.append('text').attr('x', 171).attr('y', 84).attr('font-size', FS).text('Good');
svg.append('line').attr('x1', 165).attr('x2', 142).attr('y1', 99.5).attr('y2', 99.5).attr('stroke', RED).attr('stroke-width', 2.2);
arrowHead(svg, 136, 99.5, 'left');
svg.append('text').attr('x', 171).attr('y', 104).attr('font-size', FS).text('Outliers');

// ---- RV scale shared ----
const xr = () => d3.scaleLinear().domain([-59.8, 29.21]).range([L, R]);
const rvFmt = d3.format('d');
const f2 = d3.format('.2f');

// ---- Panel 2 ----
const x2 = xr();
const y2 = d3.scaleLinear().domain([0.8708, 1.0806]).range([577, 342]);
const P2 = makePanel(342, 577, x2, y2, rvTicks, ccfTicks, rvFmt, f2, 'RV [km/s]', 'Normalized CCF', 71);
band(P2.bands, ccfUp2, ccfLo2, x2, y2, ORANGE, OP2);
band(P2.bands, ccfUp1, ccfLo1, x2, y2, RED, OP1);
line(P2.lines, ccfMedian, x2, y2, '#000', 2, null, 1, d3.curveMonotoneX);
line(P2.lines, ccfFit, x2, y2, '#1f77b4', 2, '7.4,3.2', 0.8, d3.curveMonotoneX);
legendBox(1049.5, 348.5, 132, 26);
svg.append('line').attr('x1', 1055).attr('x2', 1083).attr('y1', 360.5).attr('y2', 360.5)
  .attr('stroke', '#1f77b4').attr('stroke-opacity', 0.8).attr('stroke-width', 2).attr('stroke-dasharray', '7.4,3.2');
svg.append('text').attr('x', 1093.5).attr('y', 365.5).attr('font-size', FS).text('Gaussian fit');

// ---- Panel 3 / 4 ----
function sigmaLegend(top) {
  const yb = top + 7.5;
  legendBox(127.5, yb, 343, 26);
  svg.append('rect').attr('x', 133).attr('y', yb + 7).attr('width', 27.5).attr('height', 10)
    .attr('fill', ORANGE).attr('fill-opacity', OP2).attr('stroke', ORANGE).attr('stroke-opacity', OP2);
  const t1 = svg.append('text').attr('x', 172).attr('y', yb + 17).attr('font-size', FS);
  t1.append('tspan').text('2-'); t1.append('tspan').attr('font-style', 'italic').text('σ');
  svg.append('rect').attr('x', 224.5).attr('y', yb + 7).attr('width', 27.5).attr('height', 10)
    .attr('fill', RED).attr('fill-opacity', OP1).attr('stroke', RED).attr('stroke-opacity', OP1);
  const t2 = svg.append('text').attr('x', 264).attr('y', yb + 17).attr('font-size', FS);
  t2.append('tspan').text('1-'); t2.append('tspan').attr('font-style', 'italic').text('σ');
  svg.append('line').attr('x1', 315).attr('x2', 344).attr('y1', yb + 12).attr('y2', yb + 12)
    .attr('stroke', BLUE).attr('stroke-width', 2);
  svg.append('text').attr('x', 355).attr('y', yb + 17).attr('font-size', FS).text('Median residual');
}
const x3 = xr();
const y3 = d3.scaleLinear().domain([-0.01588, 0.07812]).range([858, 623]);
const P3 = makePanel(623, 858, x3, y3, rvTicks, resTicks, rvFmt, f2, 'RV [km/s]', 'Residuals [to fit]', 71);
band(P3.bands, resUp2, resLo2, x3, y3, ORANGE, OP2);
band(P3.bands, resUp1, resLo1, x3, y3, RED, OP1);
line(P3.lines, resMedian, x3, y3, BLUE, 2, null, 1, d3.curveMonotoneX);
sigmaLegend(623);

const x4 = xr();
const y4 = d3.scaleLinear().domain([-0.01647, 0.07126]).range([1140, 904]);
const P4 = makePanel(904, 1140, x4, y4, rvTicks, resTicks, rvFmt, f2, 'RV [km/s]', 'Residuals [To Median]', 71);
band(P4.bands, relUp2, relLo2, x4, y4, ORANGE, OP2);
band(P4.bands, relUp1, relLo1, x4, y4, RED, OP1);
line(P4.lines, relMedian, x4, y4, BLUE, 2, null, 1);
sigmaLegend(904);
</script>
</body></html>
